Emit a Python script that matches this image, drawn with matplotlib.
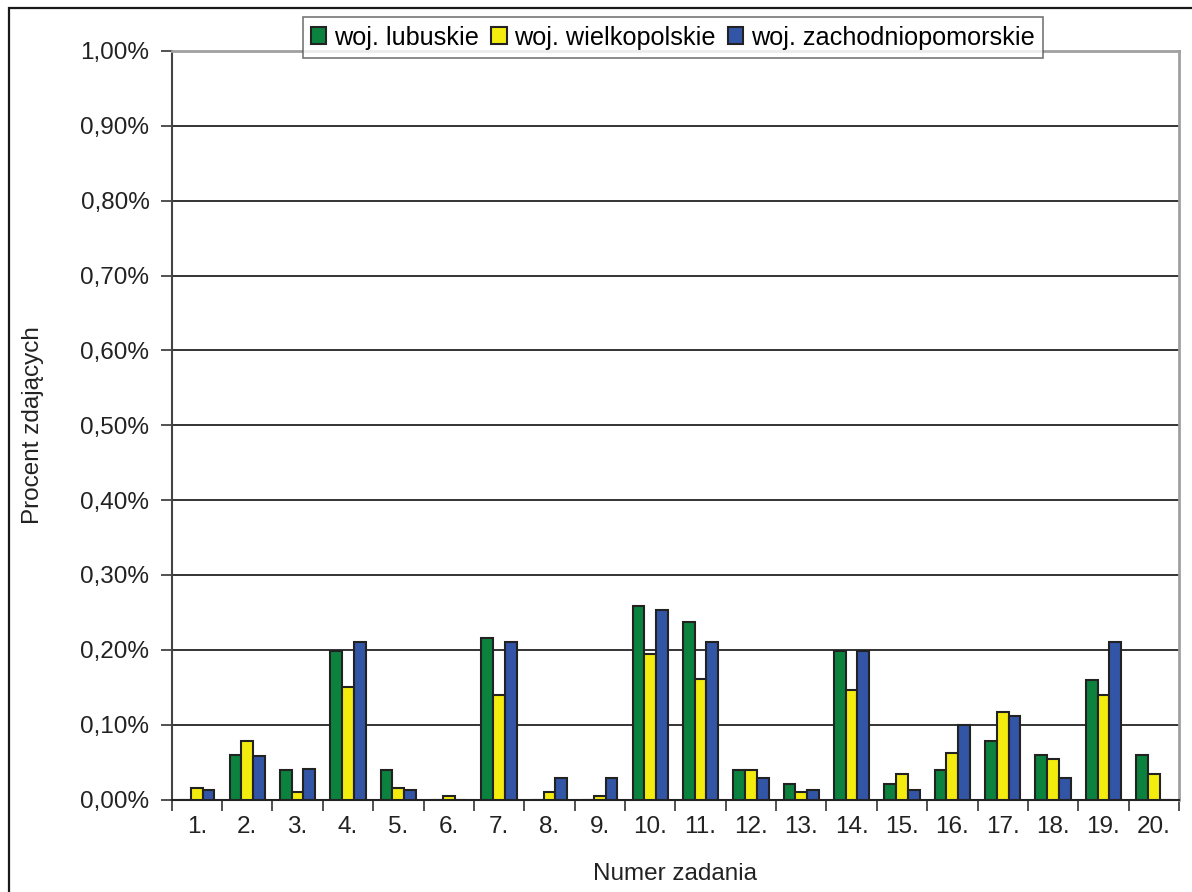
import numpy as np
import matplotlib.pyplot as plt
from matplotlib.patches import Rectangle
from matplotlib.ticker import FuncFormatter

plt.rcParams['font.family'] = ['Liberation Sans', 'DejaVu Sans']

zadania = [f"{i}." for i in range(1, 21)]
lubuskie = [0.000, 0.060, 0.039, 0.198, 0.039, 0.000, 0.216, 0.000, 0.000, 0.258,
            0.237, 0.039, 0.021, 0.198, 0.021, 0.039, 0.078, 0.060, 0.159, 0.060]
wielkopolskie = [0.016, 0.078, 0.010, 0.150, 0.016, 0.005, 0.140, 0.010, 0.005, 0.195,
                 0.161, 0.039, 0.010, 0.146, 0.034, 0.062, 0.117, 0.054, 0.140, 0.034]
zachodniopomorskie = [0.013, 0.058, 0.041, 0.211, 0.013, 0.000, 0.211, 0.029, 0.029, 0.253,
                      0.211, 0.029, 0.013, 0.198, 0.013, 0.099, 0.112, 0.029, 0.211, 0.000]

series = [("woj. lubuskie", lubuskie, "#0b823e"),
          ("woj. wielkopolskie", wielkopolskie, "#f5ec0f"),
          ("woj. zachodniopomorskie", zachodniopomorskie, "#3255a6")]

W, H = 1192, 892
fig = plt.figure(figsize=(W / 100, H / 100), dpi=100)
ax = fig.add_axes([171.7 / W, 1 - 799.5 / H, (1179 - 171.7) / W, (799.5 - 51) / H])

# outer chart border
fig.patches.append(Rectangle((9 / W, -0.1), 1.2, 1 - 8 / H + 0.1, transform=fig.transFigure,
                             fill=False, edgecolor="#1a1a1a", linewidth=1.6))

x = np.arange(len(zadania))
bw = 0.233
for k, (name, vals, col) in enumerate(series):
    ax.bar(x + (k - 1) * bw, vals, width=bw, color=col, edgecolor="#222222",
           linewidth=1.5, label=name, zorder=3)

ax.set_xlim(-0.5, len(zadania) - 0.5)
ax.set_ylim(0, 1.0)
ax.set_yticks(np.arange(0, 1.01, 0.1))
ax.yaxis.set_major_formatter(FuncFormatter(lambda v, p: f"{v:.2f}%".replace(".", ",")))
ax.yaxis.grid(True, color="#111111", linewidth=1.2, zorder=0)

ax.set_xticks(x)
ax.set_xticklabels(zadania)
ax.set_xticks(np.arange(-0.5, len(zadania)), minor=True)
ax.tick_params(axis="x", which="major", length=0, pad=12, labelsize=17.5, colors="#222222")
ax.tick_params(axis="x", which="minor", length=8, width=1.2, color="#333333")
ax.tick_params(axis="y", length=8, width=1.2, color="#333333", pad=8, labelsize=17.5,
               labelcolor="#222222")

ax.spines["left"].set_color("#444444")
ax.spines["left"].set_linewidth(1.5)
ax.spines["bottom"].set_color("#222222")
ax.spines["bottom"].set_linewidth(1.5)
ax.spines["top"].set_color("#a0a0a0")
ax.spines["right"].set_color("#a0a0a0")
ax.spines["top"].set_linewidth(2)
ax.spines["right"].set_linewidth(2)

ax.set_xlabel("Numer zadania", fontsize=17.5, color="#222222", labelpad=18)
fig.text(33 / W, 1 - 425 / H, "Procent zdających", rotation=90, fontsize=17.5,
         color="#222222", ha="center", va="center")

leg = fig.legend(loc="center", bbox_to_anchor=(673 / W, 1 - 37.5 / H), ncol=3, fontsize=18.2,
                 frameon=True, fancybox=False, handlelength=0.6, handleheight=0.68,
                 handletextpad=0.3, columnspacing=0.5, borderpad=0.33)
leg.get_frame().set_edgecolor("#555555")
leg.get_frame().set_linewidth(1.2)
for h in leg.legend_handles:
    h.set_linewidth(1.5)

fig.savefig("out.png", dpi=100)
